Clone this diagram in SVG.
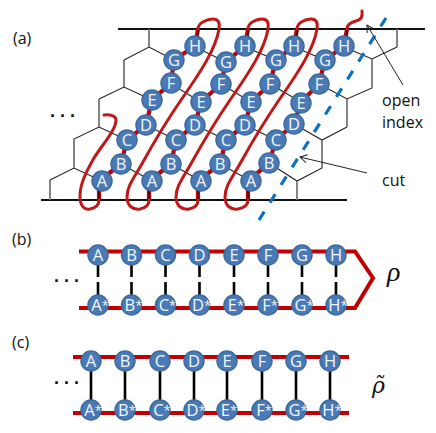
<svg xmlns="http://www.w3.org/2000/svg" width="436" height="433" viewBox="0 0 436 433">
<style>
text{font-family:"Open Sans","Noto Sans","Liberation Sans",sans-serif}
.lab{font-size:16px;fill:#111}
.n circle{fill:#4a7ab5;stroke:#3d6a9f;stroke-width:1.5}
.n text{font-size:16.5px;fill:#f2f6fb;text-anchor:middle}
.n .s{font-size:13px}
.th{fill:none;stroke:#222;stroke-width:1.1}
.gr{fill:none;stroke:#777;stroke-width:1.8}
.rail{fill:none;stroke:#111;stroke-width:1.8}
.bond{fill:none;stroke:#c00000;stroke-width:4.2}
.core{fill:none;stroke:#111;stroke-width:1.2}
.loop{fill:none;stroke:#c01818;stroke-width:3;stroke-linecap:round}
.r{fill:none;stroke:#c00000;stroke-width:4}
.v{stroke:#000;stroke-width:2.6}
.arr{fill:none;stroke:#222;stroke-width:1}
.rho{font-family:"Liberation Serif",serif;font-style:italic;font-size:28px;fill:#111}
.rhot{font-family:"DejaVu Serif",serif;font-style:italic;font-size:22px;fill:#111}
.dots{font-family:"Liberation Sans",sans-serif;font-weight:bold;font-size:18px;letter-spacing:5px;fill:#111}
</style>
<defs>
<marker id="oa" markerWidth="10" markerHeight="10" refX="9" refY="5" orient="auto" markerUnits="userSpaceOnUse"><path d="M2 1L9 5L2 9" fill="none" stroke="#222" stroke-width="1"/></marker>
</defs>
<g id="connectors">
<path class="rail" d="M118 29H425M41 200H347"/>
<path class="th" d="M50 180L74 168L102 181M74 168V139L99 127L127 140M99 99L124 87L152 100M124 60L149 47L174 60"/>
<path class="th" d="M121 164L152 181M171 164L201 181M220 164L251 181M146 125L176 140M195 125L226 140M245 125L276 140M171 84L201 102M221 84L251 102M270 84L301 102M195 47L226 62M245 47L276 60M294 47L325 60"/>
<path class="th" d="M344 47L372 59L397 47M372 59V88L347 99L319 84M347 127L322 140L294 124M322 140V168L297 181L269 163"/>
<path class="gr" d="M50 180V200M99 127V99M124 87V60M149 47V29M397 47V29M347 99V127M297 181V200"/>
<g id="bonds">
<path class="bond" d="M99 200V181L121 164L127 140L146 125L152 100L171 83L174 60L195 46L198 29"/>
<path class="bond" d="M149 200V181L171 164L176 140L195 125L201 102L221 84L226 62L245 46L248 29"/>
<path class="bond" d="M198 200V181L220 164L226 140L245 125L251 102L270 84L276 60L294 46L297 29"/>
<path class="bond" d="M248 200V181L269 163L276 140L294 124L301 102L319 84L325 60L344 46L347 29"/>
<path class="core" d="M99 200V181M149 200V181M198 200V181M248 200V181M198 29V46M248 29V46M297 29V46M347 29V46"/>
</g>
<path class="loop" d="M104 115C110 114 116 116 116 120C116 130 102 145 94 158C86 172 80 184 80 196C80 206 84 210 90 209C95 208 99 206 99 200"/>
<path class="loop" d="M198 29C198 23 207 19 213 19C218 19 220 22 219 29C216 48 202 70 181 100C166 122 154 142 143 162C134 178 127 186 127 197C127 206 133 210 140 209C145 208 149 206 149 200"/>
<path class="loop" d="M248 29C248 23 256 19 262 19C267 19 269 22 268 29C265 48 251 70 230 100C215 122 203 142 192 162C183 178 176 186 176 197C176 206 182 210 189 209C194 208 198 206 198 200"/>
<path class="loop" d="M297 29C297 23 305 19 311 19C316 19 318 22 317 29C314 48 300 70 279 100C264 122 252 142 241 162C232 178 225 186 225 197C225 206 231 210 238 209C243 208 248 206 248 200"/>
<path class="loop" d="M347 29C347 24 352 22 356 21C361 20 363 17 362 11"/>
<path d="M386 18L259 220" fill="none" stroke="#0a70c0" stroke-width="3.2" stroke-dasharray="10 10.800"/>
<path class="arr" marker-end="url(#oa)" d="M403 85L367 25"/>
<path class="arr" marker-end="url(#oa)" d="M367 173L300 157"/>
<path class="r" d="M79 251.500H355L373 278L355 308H79"/>
<path class="r" d="M73 357H349M73 413H349"/>
<g class="v">
<path d="M98 265V277M98 282V295M131.500 265V277M131.500 282V295M165.500 265V277M165.500 282V295M199.500 265V277M199.500 282V295M234 265V277M234 282V295M268 265V277M268 282V295M302 265V277M302 282V295M336 265V277M336 282V295"/>
<path d="M91 361V410M125 361V410M160 361V410M194 361V410M227 361V410M262 361V410M296 361V410M330 361V410"/>
</g>
</g>
<g id="panel-a-nodes" class="n">
<g id="a1A"><circle cx="102" cy="181" r="10"/><text x="102" y="187">A</text></g>
<g id="a1B"><circle cx="121" cy="164" r="10"/><text x="121" y="170">B</text></g>
<g id="a1C"><circle cx="127" cy="140" r="10"/><text x="127" y="146">C</text></g>
<g id="a1D"><circle cx="146" cy="125" r="10"/><text x="146" y="131">D</text></g>
<g id="a1E"><circle cx="152" cy="100" r="10"/><text x="152" y="106">E</text></g>
<g id="a1F"><circle cx="171" cy="83" r="10"/><text x="171" y="89">F</text></g>
<g id="a1G"><circle cx="174" cy="60" r="10"/><text x="174" y="66">G</text></g>
<g id="a1H"><circle cx="195" cy="46" r="10"/><text x="195" y="52">H</text></g>
<g id="a2A"><circle cx="152" cy="181" r="10"/><text x="152" y="187">A</text></g>
<g id="a2B"><circle cx="171" cy="164" r="10"/><text x="171" y="170">B</text></g>
<g id="a2C"><circle cx="176" cy="140" r="10"/><text x="176" y="146">C</text></g>
<g id="a2D"><circle cx="195" cy="125" r="10"/><text x="195" y="131">D</text></g>
<g id="a2E"><circle cx="201" cy="102" r="10"/><text x="201" y="108">E</text></g>
<g id="a2F"><circle cx="221" cy="84" r="10"/><text x="221" y="90">F</text></g>
<g id="a2G"><circle cx="226" cy="62" r="10"/><text x="226" y="68">G</text></g>
<g id="a2H"><circle cx="245" cy="46" r="10"/><text x="245" y="52">H</text></g>
<g id="a3A"><circle cx="201" cy="181" r="10"/><text x="201" y="187">A</text></g>
<g id="a3B"><circle cx="220" cy="164" r="10"/><text x="220" y="170">B</text></g>
<g id="a3C"><circle cx="226" cy="140" r="10"/><text x="226" y="146">C</text></g>
<g id="a3D"><circle cx="245" cy="125" r="10"/><text x="245" y="131">D</text></g>
<g id="a3E"><circle cx="251" cy="102" r="10"/><text x="251" y="108">E</text></g>
<g id="a3F"><circle cx="270" cy="84" r="10"/><text x="270" y="90">F</text></g>
<g id="a3G"><circle cx="276" cy="60" r="10"/><text x="276" y="66">G</text></g>
<g id="a3H"><circle cx="294" cy="46" r="10"/><text x="294" y="52">H</text></g>
<g id="a4A"><circle cx="251" cy="181" r="10"/><text x="251" y="187">A</text></g>
<g id="a4B"><circle cx="269" cy="163" r="10"/><text x="269" y="169">B</text></g>
<g id="a4C"><circle cx="276" cy="140" r="10"/><text x="276" y="146">C</text></g>
<g id="a4D"><circle cx="294" cy="124" r="10"/><text x="294" y="130">D</text></g>
<g id="a4E"><circle cx="301" cy="103" r="10"/><text x="301" y="109">E</text></g>
<g id="a4F"><circle cx="319" cy="84" r="10"/><text x="319" y="90">F</text></g>
<g id="a4G"><circle cx="325" cy="60" r="10"/><text x="325" y="66">G</text></g>
<g id="a4H"><circle cx="344" cy="46" r="10"/><text x="344" y="52">H</text></g>
</g>
<g id="panel-b-nodes" class="n">
<g id="bA"><circle cx="98" cy="255" r="10"/><text x="98" y="261">A</text></g>
<g id="bB"><circle cx="131.500" cy="255" r="10"/><text x="131.500" y="261">B</text></g>
<g id="bC"><circle cx="165.500" cy="255" r="10"/><text x="165.500" y="261">C</text></g>
<g id="bD"><circle cx="199.500" cy="255" r="10"/><text x="199.500" y="261">D</text></g>
<g id="bE"><circle cx="234" cy="255" r="10"/><text x="234" y="261">E</text></g>
<g id="bF"><circle cx="268" cy="255" r="10"/><text x="268" y="261">F</text></g>
<g id="bG"><circle cx="302" cy="255" r="10"/><text x="302" y="261">G</text></g>
<g id="bH"><circle cx="336" cy="255" r="10"/><text x="336" y="261">H</text></g>
<g id="bAs"><circle cx="98" cy="305" r="10"/><text x="100" y="311">A<tspan class="s" dy="-1">*</tspan></text></g>
<g id="bBs"><circle cx="131.500" cy="305" r="10"/><text x="133.500" y="311">B<tspan class="s" dy="-1">*</tspan></text></g>
<g id="bCs"><circle cx="165.500" cy="305" r="10"/><text x="167.500" y="311">C<tspan class="s" dy="-1">*</tspan></text></g>
<g id="bDs"><circle cx="199.500" cy="305" r="10"/><text x="201.500" y="311">D<tspan class="s" dy="-1">*</tspan></text></g>
<g id="bEs"><circle cx="234" cy="305" r="10"/><text x="236" y="311">E<tspan class="s" dy="-1">*</tspan></text></g>
<g id="bFs"><circle cx="268" cy="305" r="10"/><text x="270" y="311">F<tspan class="s" dy="-1">*</tspan></text></g>
<g id="bGs"><circle cx="302" cy="305" r="10"/><text x="304" y="311">G<tspan class="s" dy="-1">*</tspan></text></g>
<g id="bHs"><circle cx="336" cy="305" r="10"/><text x="338" y="311">H<tspan class="s" dy="-1">*</tspan></text></g>
</g>
<g id="panel-c-nodes" class="n">
<g id="cA"><circle cx="91" cy="361" r="10"/><text x="91" y="367">A</text></g>
<g id="cB"><circle cx="125" cy="361" r="10"/><text x="125" y="367">B</text></g>
<g id="cC"><circle cx="160" cy="361" r="10"/><text x="160" y="367">C</text></g>
<g id="cD"><circle cx="194" cy="361" r="10"/><text x="194" y="367">D</text></g>
<g id="cE"><circle cx="227" cy="361" r="10"/><text x="227" y="367">E</text></g>
<g id="cF"><circle cx="262" cy="361" r="10"/><text x="262" y="367">F</text></g>
<g id="cG"><circle cx="296" cy="361" r="10"/><text x="296" y="367">G</text></g>
<g id="cH"><circle cx="330" cy="361" r="10"/><text x="330" y="367">H</text></g>
<g id="cAs"><circle cx="91" cy="410" r="10"/><text x="93" y="416">A<tspan class="s" dy="-1">*</tspan></text></g>
<g id="cBs"><circle cx="125" cy="410" r="10"/><text x="127" y="416">B<tspan class="s" dy="-1">*</tspan></text></g>
<g id="cCs"><circle cx="160" cy="410" r="10"/><text x="162" y="416">C<tspan class="s" dy="-1">*</tspan></text></g>
<g id="cDs"><circle cx="194" cy="410" r="10"/><text x="196" y="416">D<tspan class="s" dy="-1">*</tspan></text></g>
<g id="cEs"><circle cx="227" cy="410" r="10"/><text x="229" y="416">E<tspan class="s" dy="-1">*</tspan></text></g>
<g id="cFs"><circle cx="262" cy="410" r="10"/><text x="264" y="416">F<tspan class="s" dy="-1">*</tspan></text></g>
<g id="cGs"><circle cx="296" cy="410" r="10"/><text x="298" y="416">G<tspan class="s" dy="-1">*</tspan></text></g>
<g id="cHs"><circle cx="330" cy="410" r="10"/><text x="332" y="416">H<tspan class="s" dy="-1">*</tspan></text></g>
</g>
<g id="labels">
<text class="lab" x="13" y="44">(a)</text>
<text class="lab" x="12" y="245">(b)</text>
<text class="lab" x="12" y="348">(c)</text>
<text class="lab" x="382" y="106">open</text>
<text class="lab" x="382" y="128">index</text>
<text class="lab" x="382" y="186">cut</text>
<text class="dots" x="50" y="116.500">...</text>
<text class="dots" x="54" y="281.500">...</text>
<text class="dots" x="54" y="383.500">...</text>
<text class="rho" x="387" y="281">ρ</text>
<text class="rhot" x="372" y="393">ρ̃</text>
</g>
</svg>
